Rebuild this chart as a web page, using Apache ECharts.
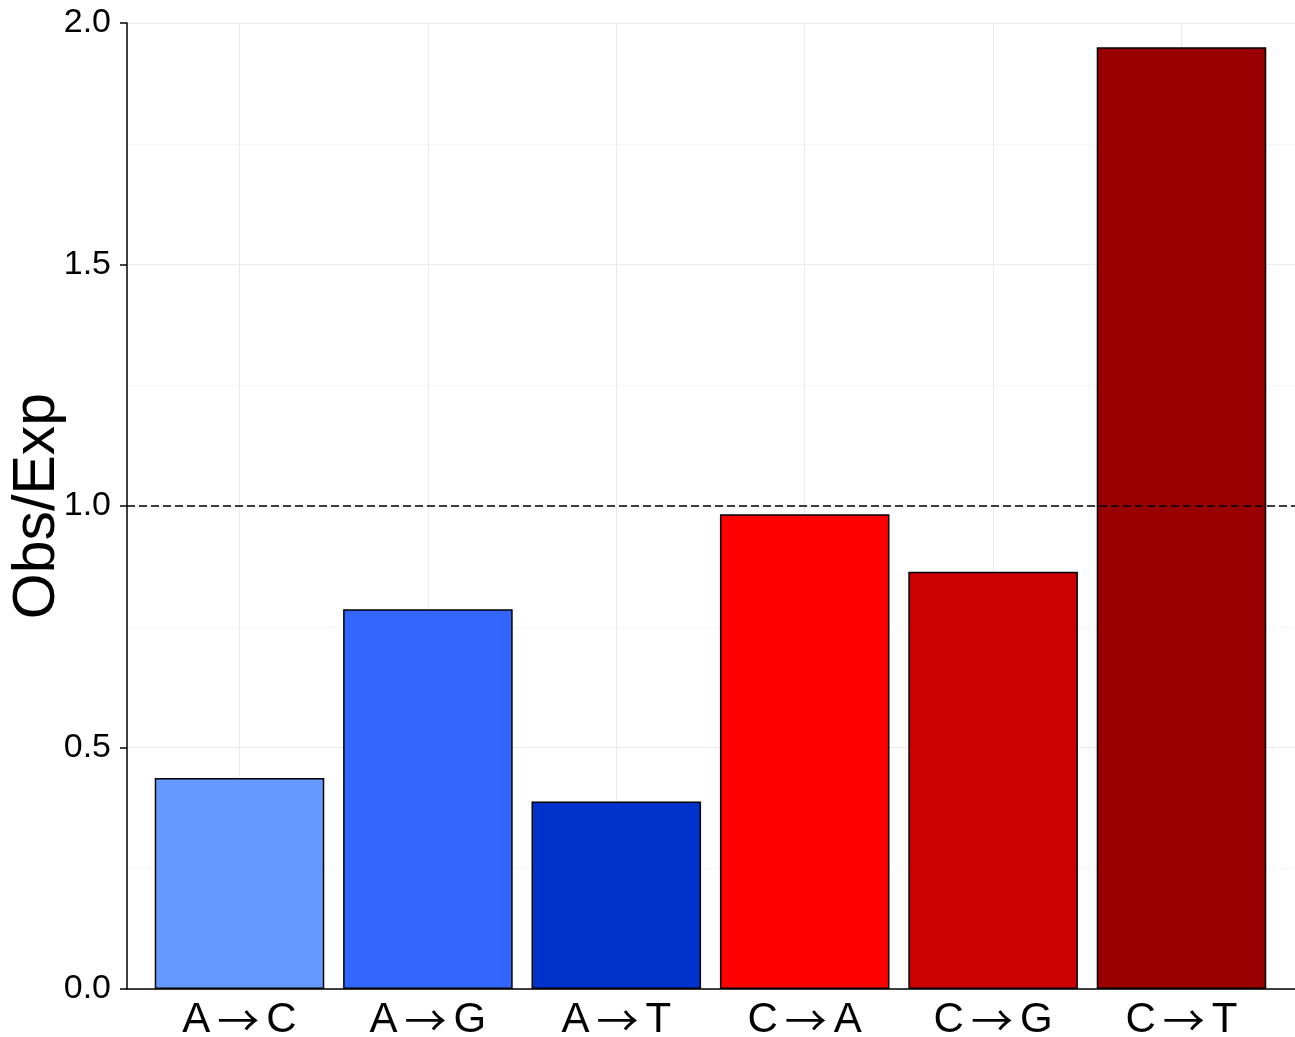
<!DOCTYPE html>
<html>
<head>
<meta charset="utf-8">
<script src="https://cdn.jsdelivr.net/npm/echarts@6/dist/echarts.min.js"></script>
<style>
  html, body { margin: 0; padding: 0; background: #fff; }
  #chart { width: 1295px; height: 1037px; }
</style>
</head>
<body>
<div id="chart"></div>
<script>
const categories = ['A \u2192 C', 'A \u2192 G', 'A \u2192 T', 'C \u2192 A', 'C \u2192 G', 'C \u2192 T'];
const obsExp = [0.437, 0.786, 0.388, 0.983, 0.864, 1.950];
const barColors = ['#6699FF', '#3366FF', '#0033CC', '#FF0000', '#CC0000', '#990000'];
const yTicks = [0, 0.5, 1.0, 1.5, 2.0];
const refLine = 1.0;

const font = '"Liberation Sans", Arial, Helvetica, sans-serif';
const chart = echarts.init(document.getElementById('chart'));

// panel spans 127..1295; ggplot-style expand of 0.6 band at each side
const gridTop = 23, gridBottom = 48;

const option = {
    animation: false,
    backgroundColor: '#fff',
    grid: [
        // frame: y axis, horizontal grid, x axis line
        { left: 127, right: 0, top: gridTop, bottom: gridBottom, outerBoundsMode: 'none', containLabel: false },
        // bars
        { left: 145.3, right: 19.3, top: gridTop, bottom: gridBottom, outerBoundsMode: 'none', containLabel: false },
        // category labels + vertical grid at centres
        { left: 239.5, right: 113.5, top: gridTop, bottom: gridBottom, outerBoundsMode: 'none', containLabel: false },
    ],
    xAxis: [
        {
            gridIndex: 0, type: 'value', min: 0, max: 1,
            axisLine: { show: true, lineStyle: { color: '#000', width: 1.5 } },
            axisTick: { show: false }, axisLabel: { show: false }, splitLine: { show: false },
        },
        {
            gridIndex: 1, type: 'category', data: categories,
            axisLine: { show: false }, axisTick: { show: false }, axisLabel: { show: false },
            splitLine: { show: false },
        },
        {
            gridIndex: 2, type: 'category', data: categories, boundaryGap: false,
            axisLine: { show: false }, axisTick: { show: false },
            axisLabel: {
                margin: 10,
                formatter: v => {
                    const p = v.split(' \u2192 ');
                    return '{t|' + p[0] + '}{r|\u2192}{t|' + p[1] + '}';
                },
                rich: {
                    t: { color: '#000', fontSize: 42, fontFamily: font },
                    r: { color: '#000', fontSize: 42, fontFamily: '"Noto Sans CJK SC"', padding: [0, 7, 0, 7] },
                },
            },
            splitLine: { show: true, lineStyle: { color: '#EBEBEB', width: 1 } },
        },
    ],
    yAxis: [
        {
            gridIndex: 0, type: 'value', min: yTicks[0], max: yTicks[yTicks.length - 1], interval: 0.5,
            name: 'Obs/Exp', nameLocation: 'middle', nameGap: 60, nameMoveOverlap: false,
            nameTextStyle: { color: '#000', fontSize: 59, fontFamily: font },
            axisLine: { show: true, lineStyle: { color: '#000', width: 1.5 } },
            axisTick: { show: true, length: 7, lineStyle: { color: '#000', width: 1.5 } },
            axisLabel: {
                color: '#000', fontSize: 34, fontFamily: font, margin: 16,
                formatter: v => v.toFixed(1),
            },
            splitLine: { show: true, lineStyle: { color: '#EBEBEB', width: 1 } },
            minorTick: { show: false, splitNumber: 2 },
            minorSplitLine: { show: true, lineStyle: { color: '#F5F5F5', width: 1 } },
        },
        {
            gridIndex: 1, type: 'value', min: 0, max: 2,
            axisLine: { show: false }, axisTick: { show: false }, axisLabel: { show: false },
            splitLine: { show: false },
        },
        {
            gridIndex: 2, type: 'value', min: 0, max: 2,
            axisLine: { show: false }, axisTick: { show: false }, axisLabel: { show: false },
            splitLine: { show: false },
        },
    ],
    series: [
        {
            type: 'bar',
            xAxisIndex: 1, yAxisIndex: 1,
            barWidth: '90%',
            data: obsExp.map((v, i) => ({
                value: v,
                itemStyle: { color: barColors[i], borderColor: '#000', borderWidth: 1.5 },
            })),
            z: 3,
        },
        {
            type: 'line',
            xAxisIndex: 0, yAxisIndex: 0,
            data: [],
            markLine: {
                silent: true, symbol: 'none',
                label: { show: false },
                lineStyle: { color: '#000', type: [8, 4], width: 1.5 },
                data: [{ yAxis: refLine }],
            },
            z: 4,
        },
    ],
};
chart.setOption(option);
</script>
</body>
</html>
